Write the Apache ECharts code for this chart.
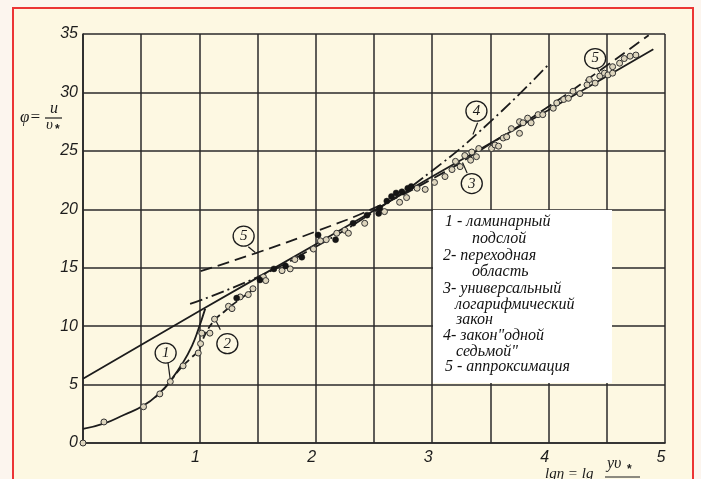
<!DOCTYPE html>
<html>
<head>
<meta charset="utf-8">
<script src="https://cdn.jsdelivr.net/npm/echarts/dist/echarts.min.js"></script>
<style>
html,body{margin:0;padding:0;background:#fcf5ee;}
#chart{width:701px;height:479px;}
</style>
</head>
<body>
<div id="chart"></div>
<script>
// Velocity profile φ = u/υ* against lg η, η = yυ*/ν
var xTicks = [1, 2, 3, 4, 5];
var yTicks = [0, 5, 10, 15, 20, 25, 30, 35];

// 1 - laminar sublayer
var laminar = [[0, 1.2], [0.19, 1.7], [0.35, 2.4], [0.52, 3.2], [0.66, 4.3], [0.75, 5.3],
  [0.86, 6.9], [0.94, 8.4], [0.99, 9.7], [1.05, 11.5]];
// 2 - transition region
var transition = [[0.62, 3.9], [0.72, 4.9], [0.83, 6.3], [0.93, 7.3], [0.99, 7.9], [1.05, 9.3],
  [1.13, 10.5], [1.22, 11.3], [1.32, 12.1], [1.46, 13.1]];
// 3 - universal logarithmic law
var logLaw = [[0, 5.5], [1.0, 11.3], [2.0, 17.0], [3.0, 22.8], [4.0, 28.5], [4.9, 33.7]];
// 4 - one-seventh power law
var seventhLaw = [[0.92, 11.9], [1.5, 14.2], [2.0, 16.8], [2.5, 19.8], [3.0, 23.3], [3.5, 27.5], [4.01, 32.5]];
// 5 - approximation
var approx = [[1.01, 14.7], [1.5, 16.3], [2.0, 18.1], [2.5, 20.1], [3.0, 22.6], [3.5, 25.6],
  [4.0, 28.8], [4.5, 32.3], [4.86, 34.9]];

// measured points, open markers
var openPts = [[0, 0], [0.18, 1.8], [0.52, 3.1], [0.66, 4.2], [0.75, 5.25], [0.86, 6.6], [0.99, 7.7],
  [1.01, 8.5], [1.02, 9.4], [1.09, 9.4], [1.13, 10.6], [1.25, 11.7], [1.28, 11.5], [1.35, 12.5],
  [1.42, 12.7], [1.46, 13.2], [1.55, 14.2], [1.57, 13.9], [1.71, 14.75], [1.78, 14.9], [1.82, 15.7],
  [1.98, 16.6], [2.04, 17.3], [2.09, 17.4], [2.18, 17.95], [2.25, 18.2], [2.28, 17.95], [2.42, 18.8],
  [2.59, 19.8], [2.72, 20.6], [2.78, 21.0], [2.87, 21.8], [2.94, 21.7], [3.02, 22.3], [3.11, 22.8],
  [3.17, 23.4], [3.2, 24.1], [3.24, 23.65], [3.28, 24.6], [3.33, 24.2], [3.34, 24.9], [3.38, 24.5],
  [3.40, 25.2], [3.51, 25.2], [3.54, 25.5], [3.57, 25.4], [3.61, 26.1], [3.64, 26.2], [3.68, 26.9],
  [3.75, 26.5], [3.75, 27.5], [3.78, 27.4], [3.82, 27.8], [3.85, 27.4], [3.91, 28.1], [3.95, 28.1],
  [4.04, 28.65], [4.07, 29.1], [4.13, 29.4], [4.17, 29.5], [4.21, 30.1], [4.27, 29.9], [4.33, 30.65],
  [4.35, 31.1], [4.40, 30.8], [4.44, 31.4], [4.48, 31.65], [4.51, 31.5], [4.55, 32.2], [4.55, 31.65],
  [4.61, 32.5], [4.65, 32.9], [4.70, 33.1], [4.75, 33.2]];
// measured points, filled markers
var filledPts = [[1.32, 12.4], [1.52, 13.95], [1.64, 14.9], [1.74, 15.15], [1.88, 15.9], [2.02, 17.8],
  [2.17, 17.4], [2.32, 18.8], [2.44, 19.5], [2.54, 19.65], [2.55, 20.1], [2.61, 20.7], [2.65, 21.1],
  [2.69, 21.4], [2.74, 21.5], [2.79, 21.8], [2.82, 21.95]];

// circled curve numbers and their leader lines
var calloutNames = ['1', '2', '5', '4', '3', '5'];
var calloutAt = [[0.71, 7.7], [1.24, 8.5], [1.38, 17.7], [3.38, 28.4], [3.34, 22.2], [4.40, 32.9]];
var leaderFrom = [[0.73, 6.9], [1.18, 9.7], [1.42, 16.8], [3.39, 27.4], [3.30, 23.1], [4.41, 32.2]];
var leaderTo = [[0.75, 5.4], [1.14, 10.5], [1.48, 16.3], [3.35, 26.4], [3.26, 24.0], [4.44, 31.7]];

var legendLines = [
  ['1 - ламинарный', 445, 223], ['подслой', 472, 240],
  ['2- переходная', 443, 257], ['область', 472, 273],
  ['3- универсальный', 443, 290], ['логарифмический', 455, 306], ['закон', 456, 321],
  ['4- закон"одной', 443, 337], ['седьмой"', 456, 353],
  ['5 - аппроксимация', 445, 368]
];

var INK = '#1c1c1c';
var tickFont = 'Liberation Sans';

function curve(name, data, type) {
  return {
    name: name, type: 'line', data: data, smooth: true, showSymbol: false, z: 3,
    lineStyle: { color: INK, width: 1.8, type: type }, silent: true
  };
}

var chart = echarts.init(document.getElementById('chart'), null, { renderer: 'canvas' });

var graphics = [
  { type: 'rect', z: -10, shape: { x: 13, y: 8, width: 680, height: 500 },
    style: { fill: '#fdf8e2', stroke: '#ec3535', lineWidth: 2 } },
  { type: 'rect', z: 50, shape: { x: 433, y: 210, width: 179, height: 173 },
    style: { fill: '#ffffff', stroke: null } },
  // axis names
  { type: 'text', z: 50, left: 20, top: 109,
    style: { text: 'φ=', font: 'italic 17px "Liberation Serif"', fill: INK } },
  { type: 'text', z: 50, left: 50, top: 101,
    style: { text: 'u', font: 'italic 16px "Liberation Serif"', fill: INK } },
  { type: 'line', z: 50, shape: { x1: 45, y1: 118, x2: 62, y2: 118 }, style: { stroke: INK, lineWidth: 1.2 } },
  { type: 'text', z: 50, left: 46, top: 118,
    style: { text: 'υ', font: 'italic 15px "Liberation Serif"', fill: INK } },
  { type: 'text', z: 50, left: 55, top: 124,
    style: { text: '*', font: 'bold 12px "Liberation Sans"', fill: INK } },
  { type: 'text', z: 50, left: 545, top: 467,
    style: { text: 'lgη = lg', font: 'italic 15px "Liberation Serif"', fill: INK } },
  { type: 'text', z: 50, left: 607, top: 456,
    style: { text: 'yυ', font: 'italic 16px "Liberation Serif"', fill: INK } },
  { type: 'text', z: 50, left: 627, top: 464,
    style: { text: '*', font: 'bold 12px "Liberation Sans"', fill: INK } },
  { type: 'line', z: 50, shape: { x1: 605, y1: 477, x2: 640, y2: 477 }, style: { stroke: INK, lineWidth: 1.2 } }
];
legendLines.forEach(function (l) {
  graphics.push({ type: 'text', z: 60, left: l[1], top: l[2] - 9,
    style: { text: l[0], font: 'italic 16px "Liberation Serif"', fill: '#111' } });
});

var series = [
  curve('1', laminar, 'solid'),
  curve('2', transition, [7, 4]),
  curve('3', logLaw, 'solid'),
  curve('4', seventhLaw, [13, 4, 2, 4]),
  curve('5', approx, [12, 6]),
  {
    type: 'lines', coordinateSystem: 'cartesian2d', z: 4, silent: true,
    lineStyle: { color: INK, width: 1.2, opacity: 1 },
    data: leaderFrom.map(function (p, i) { return { coords: [p, leaderTo[i]] }; })
  },
  {
    type: 'scatter', data: openPts, symbol: 'circle', symbolSize: 6, z: 5, silent: true,
    itemStyle: { color: '#ddd5bd', borderColor: '#333', borderWidth: 1, opacity: 1 }
  },
  {
    type: 'scatter', data: filledPts, symbol: 'circle', symbolSize: 6, z: 5, silent: true,
    itemStyle: { color: '#151515', borderColor: '#151515', borderWidth: 0.5, opacity: 1 }
  },
  {
    type: 'scatter', z: 6, silent: true, symbol: 'circle', symbolSize: [21, 20],
    data: calloutAt.map(function (p, i) { return { value: p, name: calloutNames[i] }; }),
    itemStyle: { color: '#fdf8e2', borderColor: INK, borderWidth: 1.3, opacity: 1 },
    label: { show: true, position: 'inside', formatter: '{b}', color: INK,
      fontFamily: 'Liberation Serif', fontStyle: 'italic', fontSize: 15 }
  }
];

chart.setOption({
  animation: false,
  backgroundColor: 'transparent',
  graphic: graphics,
  grid: { left: 83, right: 36, top: 34, bottom: 36 },
  xAxis: {
    type: 'value', min: 0, max: 5, interval: 0.5,
    axisLine: { show: true, lineStyle: { color: '#2a2a2a', width: 1.7 } },
    axisTick: { show: false },
    splitLine: { show: true, lineStyle: { color: '#2a2a2a', width: 1.5 } },
    axisLabel: {
      margin: 7, fontSize: 16, fontStyle: 'italic', fontFamily: tickFont, color: INK,
      padding: [0, 8, 0, 0],
      formatter: function (v) { return xTicks.indexOf(v) >= 0 ? String(v) : ''; }
    }
  },
  yAxis: {
    type: 'value', min: 0, max: 35, interval: 5,
    axisLine: { show: true, lineStyle: { color: '#2a2a2a', width: 1.7 } },
    axisTick: { show: false },
    splitLine: { show: true, lineStyle: { color: '#2a2a2a', width: 1.5 } },
    axisLabel: {
      margin: 5, fontSize: 16, fontStyle: 'italic', fontFamily: tickFont, color: INK,
      formatter: function (v) { return yTicks.indexOf(v) >= 0 ? String(v) : ''; }
    }
  },
  series: series
});
</script>
</body>
</html>
